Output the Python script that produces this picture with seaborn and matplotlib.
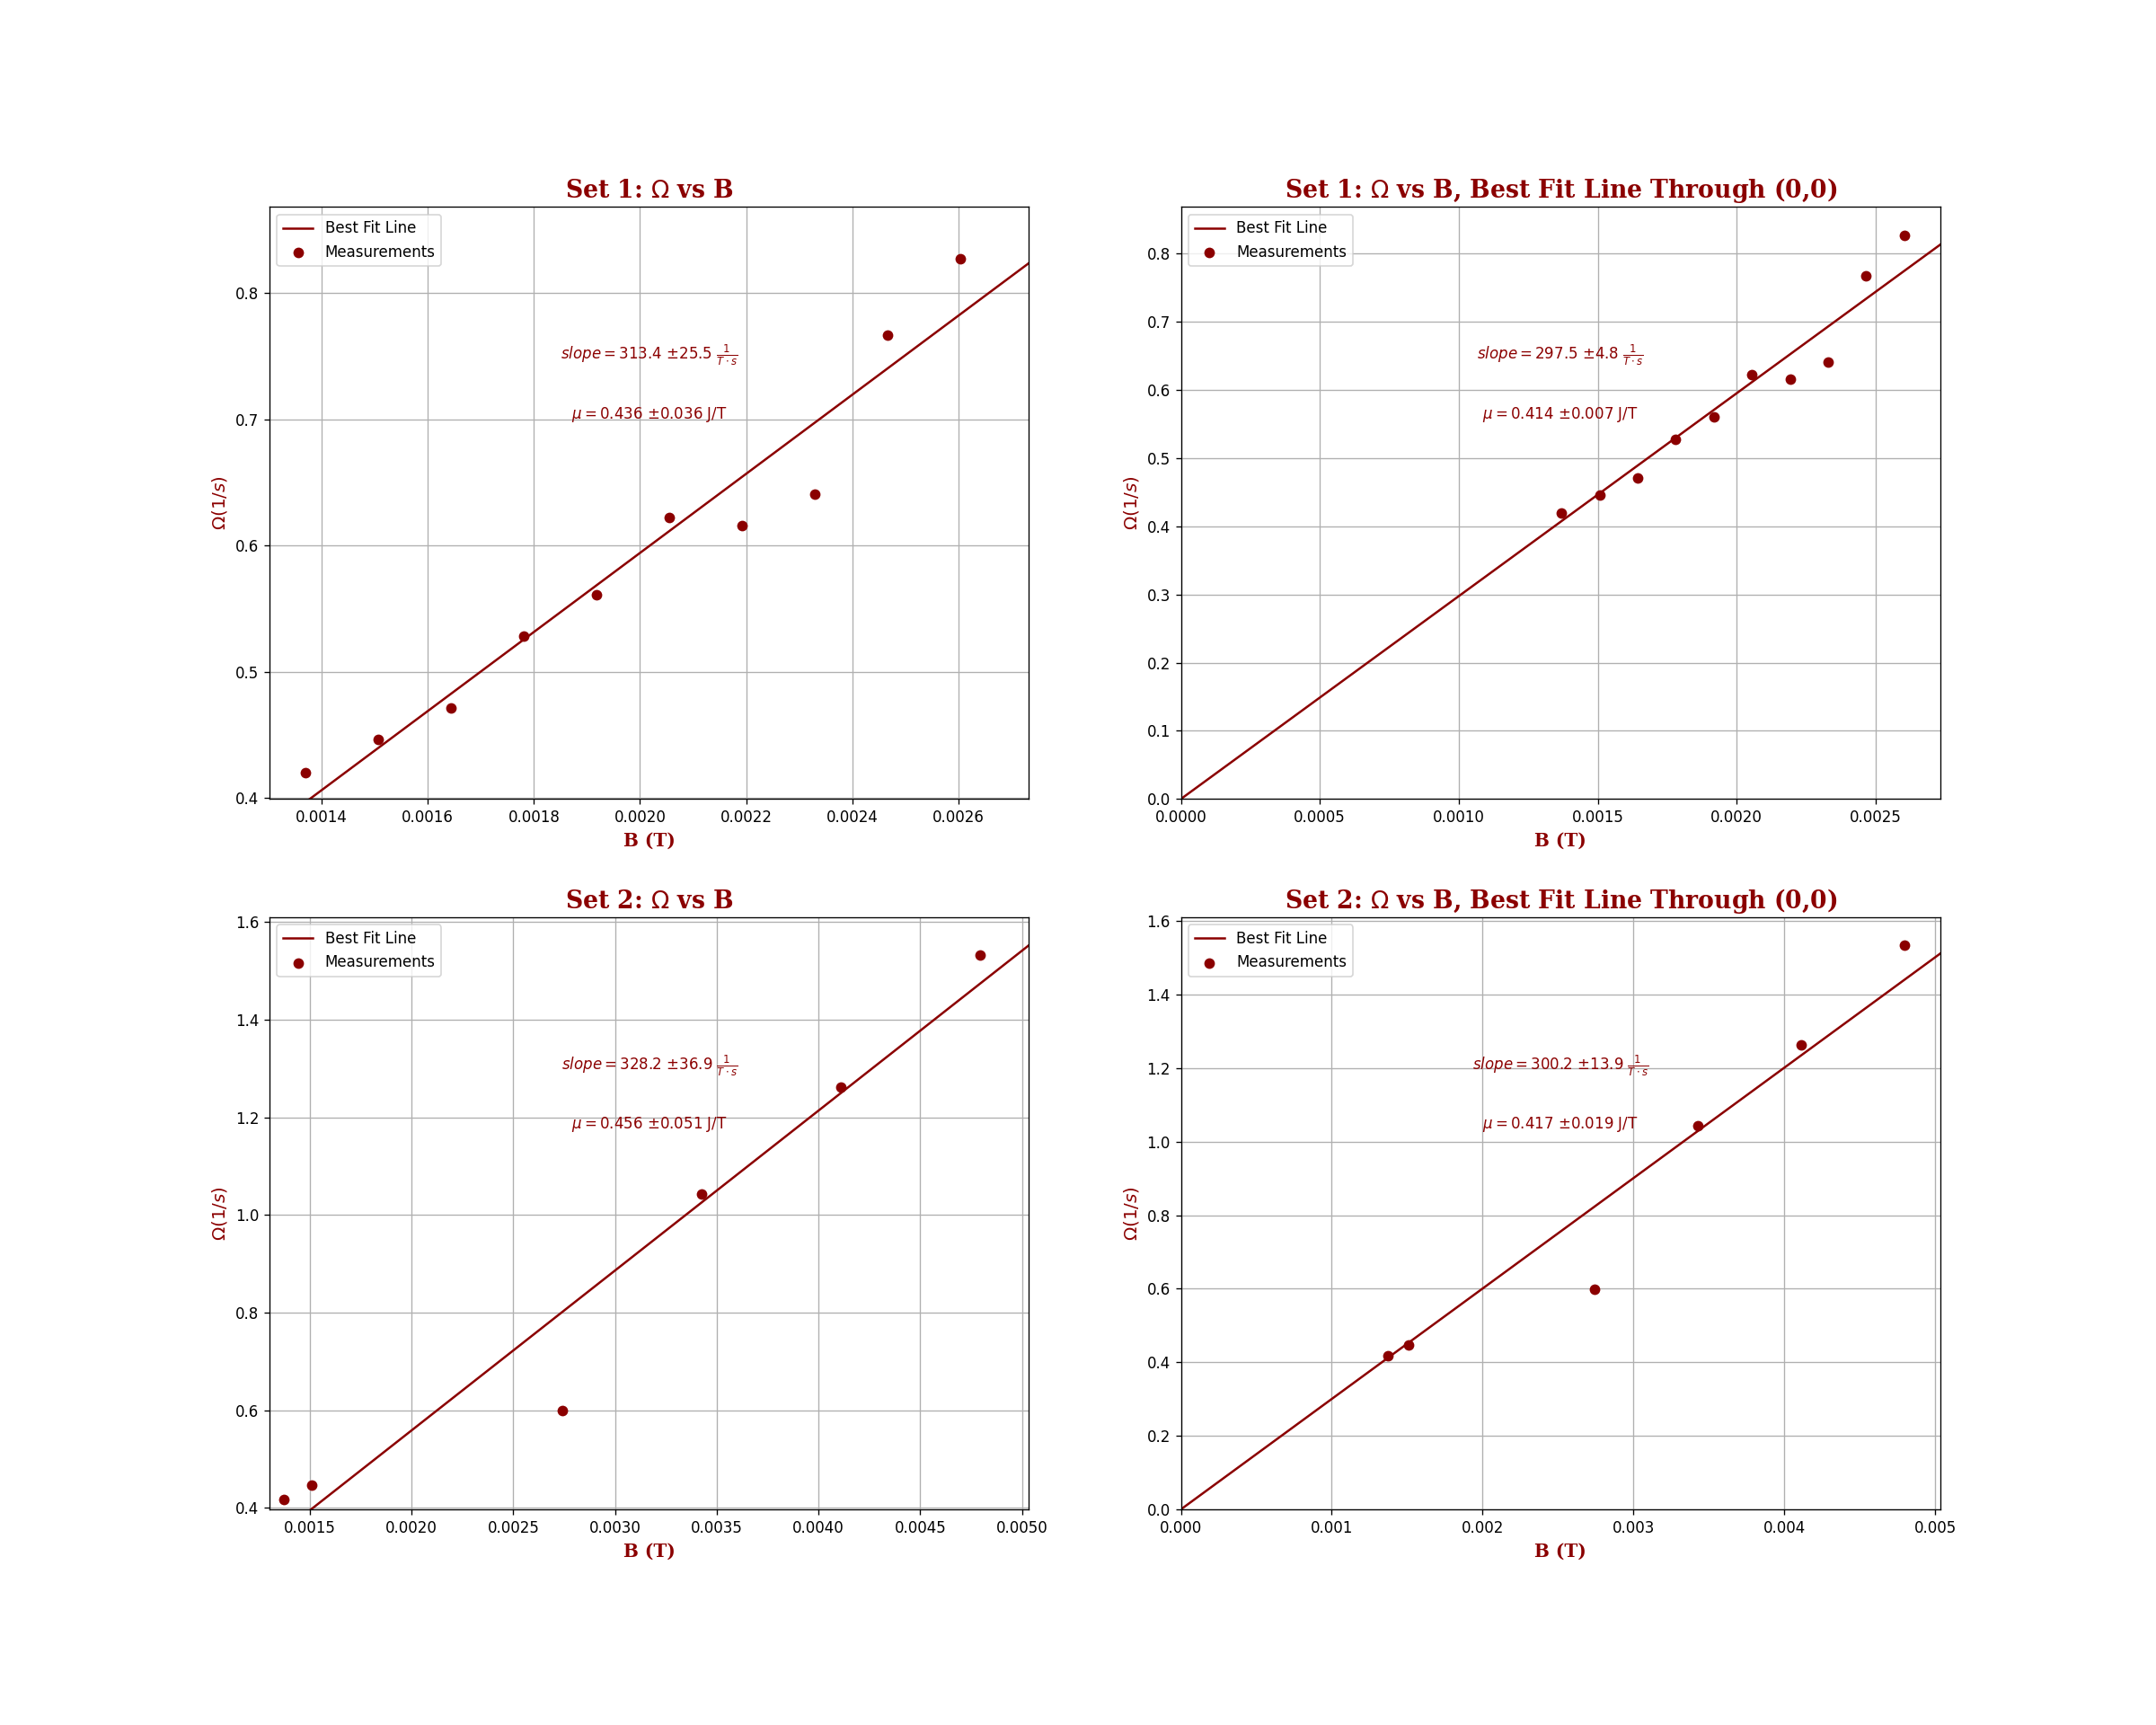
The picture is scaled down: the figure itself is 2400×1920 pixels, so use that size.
import numpy as np
import matplotlib
matplotlib.use("Agg")
import matplotlib.pyplot as plt
import seaborn as sns

# ---- data ----
B_set1 = [0.001370, 0.001507, 0.001644, 0.001781, 0.001918,
          0.002055, 0.002192, 0.002329, 0.002466, 0.002603]
W_set1 = [0.420, 0.446, 0.471, 0.528, 0.561, 0.622, 0.616, 0.641, 0.767, 0.827]

B_set2 = [0.001370, 0.001507, 0.002740, 0.003425, 0.004110, 0.004795]
W_set2 = [0.418, 0.446, 0.599, 1.043, 1.262, 1.533]

titles = ["Set 1: $\\Omega$ vs B",
          "Set 1: $\\Omega$ vs B, Best Fit Line Through (0,0)",
          "Set 2: $\\Omega$ vs B",
          "Set 2: $\\Omega$ vs B, Best Fit Line Through (0,0)"]
slopes = [313.4, 297.5, 328.2, 300.2]
slope_errs = [25.5, 4.8, 36.9, 13.9]
mus = [0.436, 0.414, 0.456, 0.417]
mu_errs = [0.036, 0.007, 0.051, 0.019]

COLOR = "#8B0000"

fig, axes = plt.subplots(2, 2, figsize=(20, 16), dpi=120)
fig.subplots_adjust(left=0.125, right=0.9, bottom=0.125, top=0.88,
                    wspace=0.2, hspace=0.2)

panels = [(B_set1, W_set1, False), (B_set1, W_set1, True),
          (B_set2, W_set2, False), (B_set2, W_set2, True)]

for i, (ax, (B, W, origin)) in enumerate(zip(axes.flat, panels)):
    B = np.asarray(B)
    W = np.asarray(W)
    if origin:
        k = np.sum(B * W) / np.sum(B * B)
        c = 0.0
        xlim = (0.0, B.max() * 1.05)
        ylim = (0.0, W.max() * 1.05)
    else:
        k, c = np.polyfit(B, W, 1)
        xlim = (B.min() * 0.95, B.max() * 1.05)
        ylim = (W.min() * 0.95, W.max() * 1.05)
    xl = np.array([0.0, B.max() * 1.1])
    sns.lineplot(x=xl, y=k * xl + c, ax=ax, color=COLOR, lw=1.5,
                 label="Best Fit Line", zorder=2)
    sns.scatterplot(x=B, y=W, ax=ax, color=COLOR, s=50, edgecolor=COLOR,
                    linewidth=0, label="Measurements", zorder=3)
    ax.set_xlim(*xlim)
    ax.set_ylim(*ylim)
    ax.grid(True, color="#b0b0b0", lw=0.8)
    ax.set_axisbelow(True)
    ax.set_title(titles[i], fontfamily="DejaVu Serif", fontweight="bold",
                 fontsize=16, color=COLOR)
    ax.set_xlabel("B (T)", fontfamily="DejaVu Serif", fontweight="bold",
                  fontsize=12, color=COLOR)
    ax.set_ylabel(r"$\Omega (1/s)$", fontsize=12, color=COLOR)
    ax.legend(loc="upper left", fontsize=10)
    ax.text(0.5, 0.75,
            r"$slope = %.1f$ ±%.1f $\frac{1}{T\cdot s}$" % (slopes[i], slope_errs[i]),
            transform=ax.transAxes, ha="center", va="center",
            color=COLOR, fontsize=10)
    ax.text(0.5, 0.65,
            r"$\mu = %.3f$ ±%.3f J/T" % (mus[i], mu_errs[i]),
            transform=ax.transAxes, ha="center", va="center",
            color=COLOR, fontsize=10)

fig.savefig("out.png", dpi=120)
